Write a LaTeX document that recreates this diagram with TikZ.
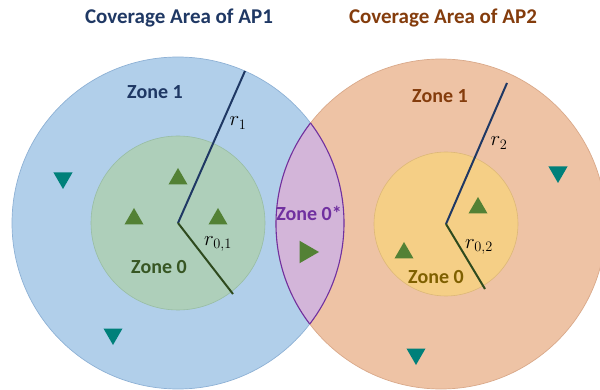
\documentclass[tikz,border=0pt]{standalone}
\usepackage{fontspec}
\setmainfont{Carlito}
\usetikzlibrary{shapes.geometric}

\definecolor{blueFill}{HTML}{B1CFEA}
\definecolor{blueEdge}{HTML}{8EB1D5}
\definecolor{greenFill}{HTML}{AECFBA}
\definecolor{greenEdge}{HTML}{98BDA3}
\definecolor{peachFill}{HTML}{EEC3A5}
\definecolor{peachEdge}{HTML}{D9A98A}
\definecolor{yellowFill}{HTML}{F5CF86}
\definecolor{yellowEdge}{HTML}{DDB878}
\definecolor{lensFill}{HTML}{D3B5D9}
\definecolor{lensEdge}{HTML}{7030A0}
\definecolor{navy}{HTML}{1F3864}
\definecolor{brown}{HTML}{843C0C}
\definecolor{darkGreen}{HTML}{375623}
\definecolor{olive}{HTML}{7F6000}
\definecolor{lineGreen}{HTML}{2E4A1E}
\definecolor{triGreen}{HTML}{538135}
\definecolor{triTeal}{HTML}{00807A}

\tikzset{
  title/.style={font=\fontsize{21}{24}\selectfont\bfseries, inner sep=0pt},
  zonelabel/.style={font=\fontsize{20}{22}\selectfont\bfseries, inner sep=0pt},
  radlabel/.style={font=\fontsize{21}{23}\selectfont, inner sep=0pt},
  tri/.style={regular polygon, regular polygon sides=3, minimum size=22pt,
              inner sep=0pt, draw=none},
  upgreen/.style={tri, fill=triGreen},
  downteal/.style={tri, fill=triTeal, shape border rotate=180},
  radline/.style={line width=2pt},
}

\begin{document}
\begin{tikzpicture}[x=1pt, y=-1pt]
  \useasboundingbox (0,0) rectangle (600,390);
  \clip (0,0) rectangle (600,390);

  % centres of the two coverage areas
  \coordinate (big1) at (178,223);
  \coordinate (big2) at (441,224);
  \coordinate (c1) at (178,223);
  \coordinate (c2) at (446,224);

  % outer coverage discs
  \fill[blueFill] (big1) circle (166);
  \draw[blueEdge, line width=0.7pt] (big1) circle (166);
  \fill[peachFill] (big2) circle (165);
  \draw[peachEdge, line width=0.7pt] (big2) circle (165);

  % overlap lens (Zone 0*)
  \begin{scope}
    \clip (big1) circle (166);
    \fill[lensFill] (big2) circle (165);
    \draw[lensEdge, line width=1.1pt] (big2) circle (165);
  \end{scope}
  \begin{scope}
    \clip (big2) circle (165);
    \draw[lensEdge, line width=1.1pt] (big1) circle (166);
  \end{scope}

  % inner Zone 0 discs
  \fill[greenFill] (c1) circle (87);
  \draw[greenEdge, line width=0.6pt] (c1) circle (87);
  \fill[yellowFill] (c2) circle (72);
  \draw[yellowEdge, line width=0.6pt] (c2) circle (72);

  % radius markers
  \coordinate (r1end) at (245,71);
  \coordinate (r01end) at (233,294);
  \coordinate (r2end) at (507,83);
  \coordinate (r02end) at (485,289);
  \draw[radline, navy] (c1) -- (r1end);
  \draw[radline, lineGreen] (c1) -- (r01end);
  \draw[radline, navy] (c2) -- (r2end);
  \draw[radline, lineGreen] (c2) -- (r02end);

  \node[radlabel] (lr1) at (238,123) {$r_1$};
  \node[radlabel] (lr01) at (218,244) {$r_{0,1}$};
  \node[radlabel] (lr2) at (499,143) {$r_2$};
  \node[radlabel] (lr02) at (479,247) {$r_{0,2}$};

  % users
  \node[upgreen] (u1) at (178,179) {};
  \node[upgreen] (u2) at (134,219) {};
  \node[upgreen] (u3) at (218,219) {};
  \node[upgreen] (u4) at (478,208) {};
  \node[upgreen] (u5) at (404,253) {};
  \node[tri, fill=triGreen, minimum size=26pt, shape border rotate=-90] (u6) at (306,252) {};
  \node[downteal] (e1) at (63,178) {};
  \node[downteal] (e2) at (113,334) {};
  \node[downteal] (e3) at (558,172) {};
  \node[downteal] (e4) at (416,354) {};

  % titles and zone names
  \node[title, text=navy] (t1) at (179,18) {Coverage Area of AP1};
  \node[title, text=brown] (t2) at (443,18) {Coverage Area of AP2};
  \node[zonelabel, text=navy] (z11) at (155,92) {Zone 1};
  \node[zonelabel, text=darkGreen] (z01) at (159,267) {Zone 0};
  \node[zonelabel, text=brown] (z12) at (440,96) {Zone 1};
  \node[zonelabel, text=olive] (z02) at (436,277) {Zone 0};
  \node[zonelabel, text=lensEdge] (z0s) at (309,213) {Zone 0*};
\end{tikzpicture}
\end{document}
